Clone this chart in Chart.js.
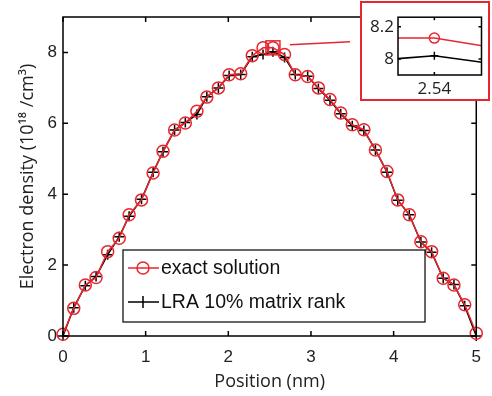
<!DOCTYPE html>
<html>
<head>
<meta charset="utf-8">
<script src="https://cdn.jsdelivr.net/npm/chart.js@4"></script>
<style>
  html, body { margin: 0; padding: 0; background: #fff; }
  #wrap { position: relative; width: 492px; height: 396px; }
  #inset { position: absolute; left: 360px; top: 1px; width: 130px; height: 100px;
           box-sizing: border-box; border: 2px solid #e8262d; background: #fff; }
  #inset canvas, #myChart { display: block; }
</style>
</head>
<body>
<div id="wrap">
  <canvas id="myChart" width="492" height="396"></canvas>
  <div id="inset"><canvas id="insetChart" width="126" height="96"></canvas></div>
</div>
<script>
// 위치 (nm)
const positions = [0, 0.13, 0.27, 0.40, 0.54, 0.68, 0.80, 0.95, 1.09, 1.21,
  1.35, 1.48, 1.62, 1.74, 1.88, 2.01, 2.15, 2.29, 2.42, 2.54,
  2.68, 2.81, 2.96, 3.09, 3.23, 3.36, 3.50, 3.64, 3.78, 3.92,
  4.05, 4.19, 4.33, 4.46, 4.60, 4.73, 4.86, 5.00];

// exact solution (10^18 /cm^3)
const exactDensity = [0.05, 0.78, 1.44, 1.65, 2.38, 2.76, 3.42, 3.84, 4.60, 5.21,
  5.81, 6.01, 6.34, 6.74, 7.00, 7.37, 7.40, 7.91, 8.13, 8.13,
  7.94, 7.37, 7.32, 7.00, 6.67, 6.29, 5.96, 5.82, 5.25, 4.64,
  3.84, 3.42, 2.66, 2.38, 1.63, 1.44, 0.88, 0.08];

// LRA 10% matrix rank
const lraDensity = [0.00, 0.80, 1.42, 1.68, 2.29, 2.80, 3.38, 3.86, 4.62, 5.20,
  5.81, 6.02, 6.25, 6.75, 7.00, 7.35, 7.38, 7.88, 7.94, 8.02,
  7.86, 7.38, 7.33, 6.98, 6.65, 6.27, 5.93, 5.80, 5.25, 4.62,
  3.83, 3.42, 2.65, 2.36, 1.63, 1.45, 0.85, 0.00];

// 눈금
const xTicks = [0, 1, 2, 3, 4, 5];
const yTicks = [0, 2, 4, 6, 8];
const insetXTicks = [2.54];
const insetYTicks = [8, 8.2];

const RED = '#e8262d';
const tickFont = { family: '"Liberation Sans", Arial, sans-serif', size: 17 };
const titleFont = { family: '"Open Sans", sans-serif', size: 18 };

function makeDatasets(circleR, crossR, clip) {
  return [
    {
      label: 'exact solution',
      data: positions.map((x, i) => ({ x: x, y: exactDensity[i] })),
      borderColor: RED, borderWidth: 1.5,
      pointStyle: 'circle', pointRadius: circleR, pointBorderWidth: 1.5,
      pointBackgroundColor: 'rgba(0,0,0,0)', pointBorderColor: RED,
      fill: false, tension: 0, clip: clip,
    },
    {
      label: 'LRA 10% matrix rank',
      data: positions.map((x, i) => ({ x: x, y: lraDensity[i] })),
      borderColor: '#000', borderWidth: 1.5,
      pointStyle: 'cross', pointRadius: crossR, pointBorderWidth: 1.5,
      pointBorderColor: '#000',
      fill: false, tension: 0, clip: clip,
    },
  ];
}

// 안쪽 눈금이 있는 테두리
function framePlugin(len) {
  return {
    id: 'frame',
    afterDraw(chart) {
      const { ctx, chartArea: a, scales: { x, y } } = chart;
      ctx.save();
      ctx.strokeStyle = '#000';
      ctx.lineWidth = 1.5;
      ctx.strokeRect(a.left, a.top, a.right - a.left, a.bottom - a.top);
      ctx.beginPath();
      x.ticks.forEach(t => {
        const px = x.getPixelForValue(t.value);
        ctx.moveTo(px, a.bottom); ctx.lineTo(px, a.bottom - len);
        ctx.moveTo(px, a.top); ctx.lineTo(px, a.top + len);
      });
      y.ticks.forEach(t => {
        const py = y.getPixelForValue(t.value);
        ctx.moveTo(a.left, py); ctx.lineTo(a.left + len, py);
        ctx.moveTo(a.right, py); ctx.lineTo(a.right - len, py);
      });
      ctx.stroke();
      ctx.restore();
    }
  };
}

// 범례 상자
const legendPlugin = {
  id: 'boxLegend',
  afterDraw(chart) {
    const ctx = chart.ctx;
    const bx = 123, by = 250, bw = 302, bh = 72;
    ctx.save();
    ctx.fillStyle = '#fff';
    ctx.fillRect(bx, by, bw, bh);
    ctx.strokeStyle = '#000';
    ctx.lineWidth = 1.2;
    ctx.strokeRect(bx, by, bw, bh);
    chart.data.datasets.forEach((ds, i) => {
      const y = by + 18 + i * 34;
      const mx = bx + 20;
      ctx.strokeStyle = ds.borderColor;
      ctx.lineWidth = 1.5;
      ctx.beginPath();
      ctx.moveTo(bx + 5, y); ctx.lineTo(bx + 36, y);
      if (ds.pointStyle === 'circle') {
        ctx.stroke();
        ctx.beginPath();
        ctx.arc(mx, y, 6, 0, Math.PI * 2);
      } else {
        ctx.moveTo(mx, y - 6); ctx.lineTo(mx, y + 6);
      }
      ctx.stroke();
      ctx.fillStyle = '#111';
      ctx.font = '19.5px "Liberation Sans", Arial, sans-serif';
      ctx.textBaseline = 'middle';
      ctx.fillText(ds.label, bx + 38, y + 1);
    });
    ctx.restore();
  }
};

// 확대 표시 (사각형 + 연결선)
const zoomMarkPlugin = {
  id: 'zoomMark',
  afterDraw(chart) {
    const { ctx, scales: { x, y } } = chart;
    const idx = positions.indexOf(insetXTicks[0]);
    const px = x.getPixelForValue(positions[idx]);
    const py = y.getPixelForValue(exactDensity[idx]);
    ctx.save();
    ctx.strokeStyle = RED;
    ctx.lineWidth = 1.5;
    ctx.strokeRect(px - 7, py - 7, 14, 14);
    ctx.beginPath();
    ctx.moveTo(px + 17, py - 3);
    ctx.lineTo(350, py - 6);
    ctx.stroke();
    ctx.restore();
  }
};

// 메인 차트
new Chart(document.getElementById('myChart').getContext('2d'), {
  type: 'line',
  data: { datasets: makeDatasets(6, 5, false) },
  options: {
    responsive: false,
    animation: false,
    layout: { padding: { top: 17, right: 5, left: 0, bottom: 0 } },
    plugins: { legend: { display: false }, tooltip: { enabled: false } },
    scales: {
      x: {
        type: 'linear', min: 0, max: 5,
        afterBuildTicks: s => { s.ticks = xTicks.map(v => ({ value: v })); },
        afterFit: s => { s.height = 60; },
        grid: { display: false, drawTicks: false },
        border: { display: false },
        ticks: { font: tickFont, color: '#222', padding: 11, maxRotation: 0, autoSkip: false },
        title: { display: true, text: 'Position (nm)', font: titleFont, color: '#222',
                 padding: { top: 0, bottom: 3 } },
      },
      y: {
        type: 'linear', min: 0, max: 9,
        afterBuildTicks: s => { s.ticks = yTicks.map(v => ({ value: v })); },
        afterFit: s => { s.width = 63; },
        grid: { display: false, drawTicks: false },
        border: { display: false },
        ticks: { font: tickFont, color: '#222', padding: 6, autoSkip: false },
        title: { display: true, text: 'Electron density (10¹⁸ /cm³)', font: titleFont, color: '#222',
                 padding: { top: 17, bottom: 0 } },
      },
    },
  },
  plugins: [framePlugin(5), legendPlugin, zoomMarkPlugin],
});

// 확대 삽입 차트
const insetFont = { family: '"Open Sans", sans-serif', size: 17 };
new Chart(document.getElementById('insetChart').getContext('2d'), {
  type: 'line',
  data: { datasets: makeDatasets(5, 4, true) },
  options: {
    responsive: false,
    animation: false,
    layout: { padding: { top: 12, right: 1, left: 0, bottom: 0 } },
    plugins: { legend: { display: false }, tooltip: { enabled: false } },
    scales: {
      x: {
        type: 'linear', min: 2.513, max: 2.575,
        afterBuildTicks: s => { s.ticks = insetXTicks.map(v => ({ value: v })); },
        afterFit: s => { s.height = 24; },
        grid: { display: false, drawTicks: false },
        border: { display: false },
        ticks: { font: insetFont, color: '#222', padding: 4, maxRotation: 0,
                 callback: v => v.toFixed(2) },
      },
      y: {
        type: 'linear', min: 7.9, max: 8.26,
        afterBuildTicks: s => { s.ticks = insetYTicks.map(v => ({ value: v })); },
        afterFit: s => { s.width = 36; },
        grid: { display: false, drawTicks: false },
        border: { display: false },
        ticks: { font: insetFont, color: '#222', padding: 4,
                 callback: v => String(v) },
      },
    },
  },
  plugins: [framePlugin(3)],
});
</script>
</body>
</html>
